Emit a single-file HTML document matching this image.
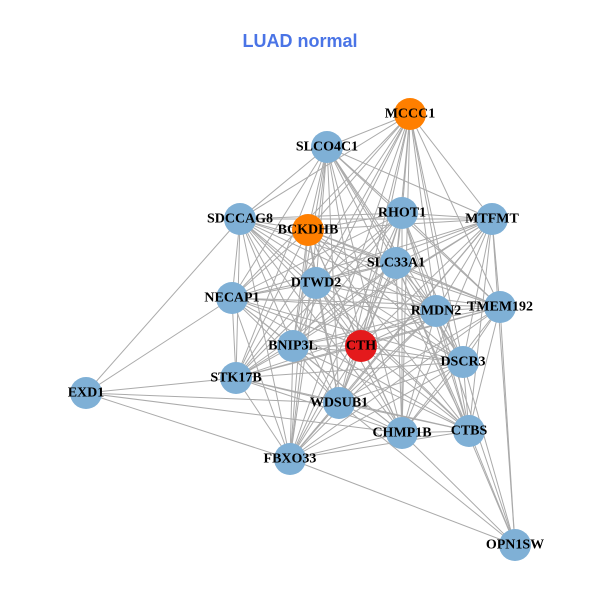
<!DOCTYPE html>
<html><head><meta charset="utf-8"><style>
html,body{margin:0;padding:0;background:#fff;width:600px;height:600px;overflow:hidden}
svg text{font-family:"Liberation Serif",serif;font-weight:bold;font-size:14px;text-anchor:middle;dominant-baseline:central;fill:#000}
</style></head><body>
<svg id="s" width="600" height="600" xmlns="http://www.w3.org/2000/svg">
<text x="300" y="41" style="font-family:'Liberation Sans',sans-serif;font-size:18px;fill:#4a74e6">LUAD normal</text>
<g id="e" stroke="#aaaaaa" stroke-width="1"></g>
<g id="n"></g>
<g>
<text x="410" y="114">MCCC1</text>
<text x="327" y="147">SLCO4C1</text>
<text x="402" y="213">RHOT1</text>
<text x="492" y="219">MTFMT</text>
<text x="240" y="219">SDCCAG8</text>
<text x="308" y="230">BCKDHB</text>
<text x="396" y="263">SLC33A1</text>
<text x="316" y="283">DTWD2</text>
<text x="232" y="298">NECAP1</text>
<text x="436" y="311">RMDN2</text>
<text x="500" y="307">TMEM192</text>
<text x="293" y="346">BNIP3L</text>
<text x="361" y="346">CTH</text>
<text x="463" y="362">DSCR3</text>
<text x="236" y="378">STK17B</text>
<text x="86" y="393">EXD1</text>
<text x="339" y="403">WDSUB1</text>
<text x="402" y="433">CHMP1B</text>
<text x="469" y="431">CTBS</text>
<text x="290" y="459">FBXO33</text>
<text x="515" y="545">OPN1SW</text>
</g>
</svg>
<script>
var N={MCCC1:[410,114,'#ff7f00'],SLCO4C1:[327,147],RHOT1:[402,213],MTFMT:[492,219],SDCCAG8:[240,219],BCKDHB:[308,230,'#ff7f00'],SLC33A1:[396,263],DTWD2:[316,283],NECAP1:[232,298],RMDN2:[436,311],TMEM192:[500,307],BNIP3L:[293,346],CTH:[361,346,'#e41a1c'],DSCR3:[463,362],STK17B:[236,378],EXD1:[86,393],WDSUB1:[339,403],CHMP1B:[402,433],CTBS:[469,431],FBXO33:[290,459],OPN1SW:[515,545]};
var ns="http://www.w3.org/2000/svg",E=document.getElementById('e'),G=document.getElementById('n');
var k=Object.keys(N),special={EXD1:['SDCCAG8','NECAP1','STK17B','WDSUB1','FBXO33','CHMP1B'],OPN1SW:['TMEM192','MTFMT','DSCR3','CTBS','CHMP1B','FBXO33','WDSUB1','RMDN2','SLC33A1']};
function ln(a,b){var l=document.createElementNS(ns,'line');l.setAttribute('x1',N[a][0]);l.setAttribute('y1',N[a][1]);l.setAttribute('x2',N[b][0]);l.setAttribute('y2',N[b][1]);E.appendChild(l);}
for(var i=0;i<k.length;i++)for(var j=i+1;j<k.length;j++){var a=k[i],b=k[j];if(a=='EXD1'||a=='OPN1SW'||b=='EXD1'||b=='OPN1SW')continue;ln(a,b);}
for(var s in special)special[s].forEach(function(t){ln(s,t);});
k.forEach(function(a){var c=document.createElementNS(ns,'circle');c.setAttribute('cx',N[a][0]);c.setAttribute('cy',N[a][1]);c.setAttribute('r',16);c.setAttribute('fill',N[a][2]||'#7fb0d6');G.appendChild(c);});
</script>
</body></html>
